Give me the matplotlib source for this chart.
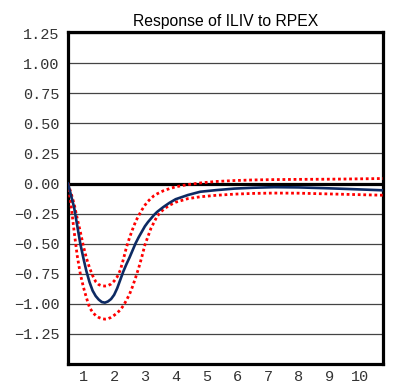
import matplotlib
matplotlib.use("Agg")
import matplotlib.pyplot as plt

# impulse response of ILIV to a shock in RPEX
period = [0.5, 0.6, 0.7, 0.8, 0.9, 1.0, 1.1, 1.2, 1.3, 1.4,
          1.5, 1.6, 1.7, 1.8, 1.9, 2.0, 2.1, 2.2, 2.3, 2.4,
          2.5, 2.6, 2.7, 2.8, 2.9, 3.0, 3.1, 3.2, 3.3, 3.4,
          3.6, 3.8, 4.0, 4.4, 4.8, 5.3, 5.9, 6.5, 7.2, 8.0,
          8.8, 9.6, 10.74]
response = [0.0, -0.10, -0.20, -0.35, -0.50, -0.62, -0.73, -0.82, -0.89, -0.935,
            -0.965, -0.985, -0.99, -0.98, -0.96, -0.925, -0.87, -0.80, -0.73, -0.67,
            -0.615, -0.555, -0.495, -0.445, -0.40, -0.355, -0.32, -0.29, -0.26, -0.235,
            -0.195, -0.16, -0.13, -0.095, -0.068, -0.055, -0.042, -0.035, -0.030, -0.032,
            -0.038, -0.045, -0.056]
upper = [0.0, -0.08, -0.17, -0.29, -0.40, -0.52, -0.62, -0.70, -0.765, -0.815,
         -0.84, -0.85, -0.852, -0.848, -0.835, -0.81, -0.775, -0.72, -0.63, -0.53,
         -0.45, -0.38, -0.315, -0.265, -0.22, -0.18, -0.148, -0.122, -0.10, -0.085,
         -0.06, -0.042, -0.027, -0.008, 0.005, 0.017, 0.025, 0.030, 0.033, 0.035,
         0.036, 0.038, 0.042]
lower = [0.0, -0.18, -0.40, -0.60, -0.75, -0.86, -0.95, -1.03, -1.07, -1.097,
         -1.113, -1.123, -1.127, -1.124, -1.112, -1.095, -1.075, -1.05, -1.015, -0.97,
         -0.92, -0.855, -0.78, -0.70, -0.61, -0.51, -0.44, -0.37, -0.32, -0.27,
         -0.215, -0.18, -0.155, -0.125, -0.11, -0.098, -0.088, -0.082, -0.079, -0.080,
         -0.085, -0.090, -0.097]

yticks = [1.25, 1.0, 0.75, 0.5, 0.25, 0.0, -0.25, -0.5, -0.75, -1.0, -1.25]
xticks = list(range(1, 11))

fig = plt.figure(figsize=(3.99, 3.85), dpi=100)
ax = fig.add_axes([68 / 399, 1 - 364 / 385, 315 / 399, 332 / 385])

# grid lines
for y in yticks:
    if y != 0:
        ax.axhline(y, color="#444444", lw=0.9, zorder=1)
ax.axhline(0, color="black", lw=2.3, zorder=2)

ax.plot(period, upper, color="#ff0000", lw=2.0, ls=(0, (1, 1)), zorder=3)
ax.plot(period, lower, color="#ff0000", lw=2.0, ls=(0, (1, 1)), zorder=3)
ax.plot(period, response, color="#0d2a63", lw=1.9, zorder=4)

ax.set_xlim(0.5, 10.74)
ax.set_ylim(-1.5, 1.26)
ax.set_yticks(yticks)
ax.set_yticklabels([f"{v:.2f}".replace("-", "\u2212") for v in yticks],
                   family="Liberation Mono", fontsize=11, color="#333333")
ax.set_xticks(xticks)
ax.set_xticklabels([str(v) for v in xticks],
                   family="Liberation Mono", fontsize=11, color="#333333")
ax.tick_params(axis="y", length=0, pad=6)
ax.tick_params(axis="x", length=0, pad=4)

for s in ax.spines.values():
    s.set_linewidth(2.3)
    s.set_color("black")

ax.set_title("Response of ILIV to RPEX", family="Liberation Sans",
             fontsize=11.3, pad=4)

fig.savefig("out.png", dpi=100)
